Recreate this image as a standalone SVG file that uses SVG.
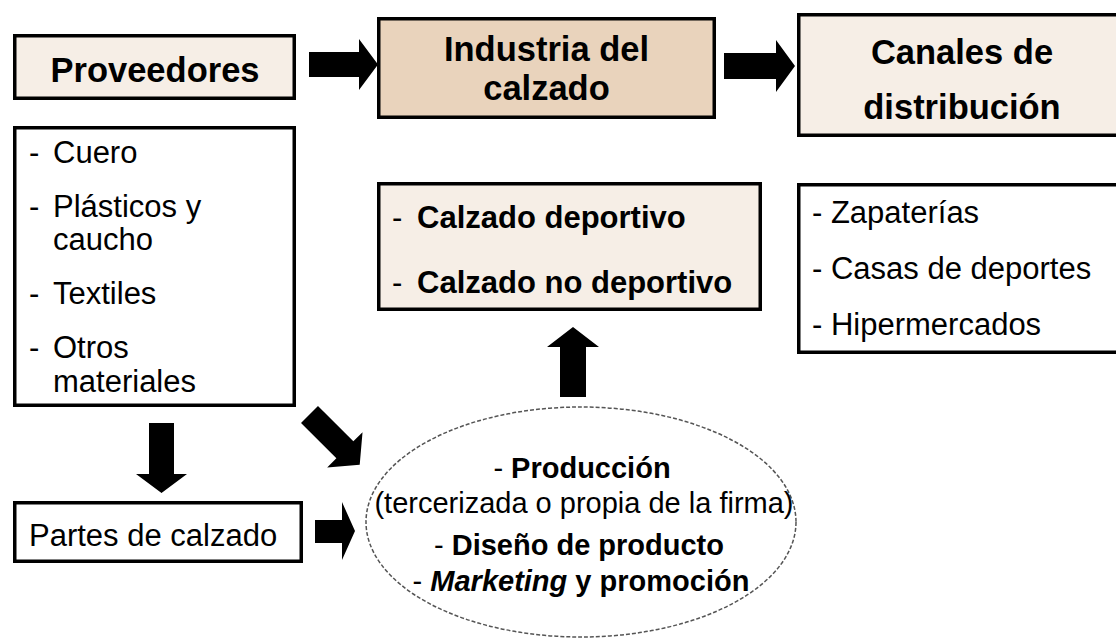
<svg xmlns="http://www.w3.org/2000/svg" width="1116" height="639" viewBox="0 0 1116 639">
<style>
.box{stroke:#000;stroke-width:3.5}
.light{fill:#F6EEE6}
.tan{fill:#E9D3BC}
.white{fill:#fff}
.t{font-family:"Liberation Sans",Arial,sans-serif;fill:#000}
.h{font-size:34.5px;font-weight:bold}
.n{font-size:31px}
.b{font-size:31px;font-weight:bold}
.e{font-size:29px}
.arrow{fill:#000}
</style>
<rect width="1116" height="639" fill="#fff"/>
<g id="connectors">
<polygon class="arrow" points="309,52 359,52 359,39 378,64.5 359,90 359,77 309,77"/>
<polygon class="arrow" points="724,53 776,53 776,40 795,66 776,92 776,79 724,79"/>
<polygon class="arrow" points="560,397 560,347 547,347 573,327 599,347 586,347 586,397"/>
<polygon class="arrow" points="149,423 174,423 174,474 187,474 161.5,493 136,474 149,474"/>
<polygon class="arrow" points="315,520 342,520 342,502 355,531 342,560 342,543 315,543"/>
<polygon class="arrow" transform="translate(309.5,414.5) rotate(45)" points="0,-12 50,-12 50,-25 71,0 50,25 50,12 0,12"/>
</g>
<g id="proveedores">
<rect class="box light" x="14.75" y="35.75" width="279.5" height="62.5"/>
<text class="t h" x="155" y="82" text-anchor="middle">Proveedores</text>
</g>
<g id="industria">
<rect class="box tan" x="378.75" y="18.75" width="335.5" height="98.5"/>
<text class="t h" x="546.5" y="61" text-anchor="middle">Industria del</text>
<text class="t h" x="546.5" y="100" text-anchor="middle">calzado</text>
</g>
<g id="canales">
<rect class="box light" x="798.75" y="14.75" width="330" height="120.5"/>
<text class="t h" x="962" y="64" text-anchor="middle">Canales de</text>
<text class="t h" x="962" y="119" text-anchor="middle">distribución</text>
</g>
<g id="materiales">
<rect class="box white" x="14.75" y="127.75" width="279.5" height="277.5"/>
<text class="t n" x="29" y="163">-</text><text class="t n" x="53" y="163">Cuero</text>
<text class="t n" x="29" y="217">-</text><text class="t n" x="53" y="217">Plásticos y</text>
<text class="t n" x="53" y="250">caucho</text>
<text class="t n" x="29" y="304">-</text><text class="t n" x="53" y="304">Textiles</text>
<text class="t n" x="29" y="358">-</text><text class="t n" x="53" y="358">Otros</text>
<text class="t n" x="53" y="392">materiales</text>
</g>
<g id="productos">
<rect class="box light" x="378.75" y="183.75" width="381.5" height="125.5"/>
<text class="t n" x="392" y="228">-</text><text class="t b" x="417" y="228">Calzado deportivo</text>
<text class="t n" x="392" y="293">-</text><text class="t b" x="417" y="293">Calzado no deportivo</text>
</g>
<g id="puntos-venta">
<rect class="box white" x="798.75" y="184.75" width="330" height="167.5"/>
<text class="t n" x="812" y="223">- Zapaterías</text>
<text class="t n" x="812" y="279">- Casas de deportes</text>
<text class="t n" x="812" y="335">- Hipermercados</text>
</g>
<g id="partes">
<rect class="box white" x="14.75" y="502.75" width="286.5" height="58.5"/>
<text class="t n" x="29" y="546">Partes de calzado</text>
</g>
<g id="actividades">
<ellipse cx="581" cy="522" rx="215" ry="115" fill="#fff" stroke="#555" stroke-width="1.5" stroke-dasharray="4 2"/>
<text class="t e" x="582" y="478" text-anchor="middle">- <tspan font-weight="bold">Producción</tspan></text>
<text class="t e" x="584" y="513" text-anchor="middle">(tercerizada o propia de la firma)</text>
<text class="t e" x="579" y="555" text-anchor="middle">- <tspan font-weight="bold">Diseño de producto</tspan></text>
<text class="t e" x="581" y="591" text-anchor="middle">- <tspan font-weight="bold" font-style="italic">Marketing</tspan><tspan font-weight="bold"> y promoción</tspan></text>
</g>
</svg>
